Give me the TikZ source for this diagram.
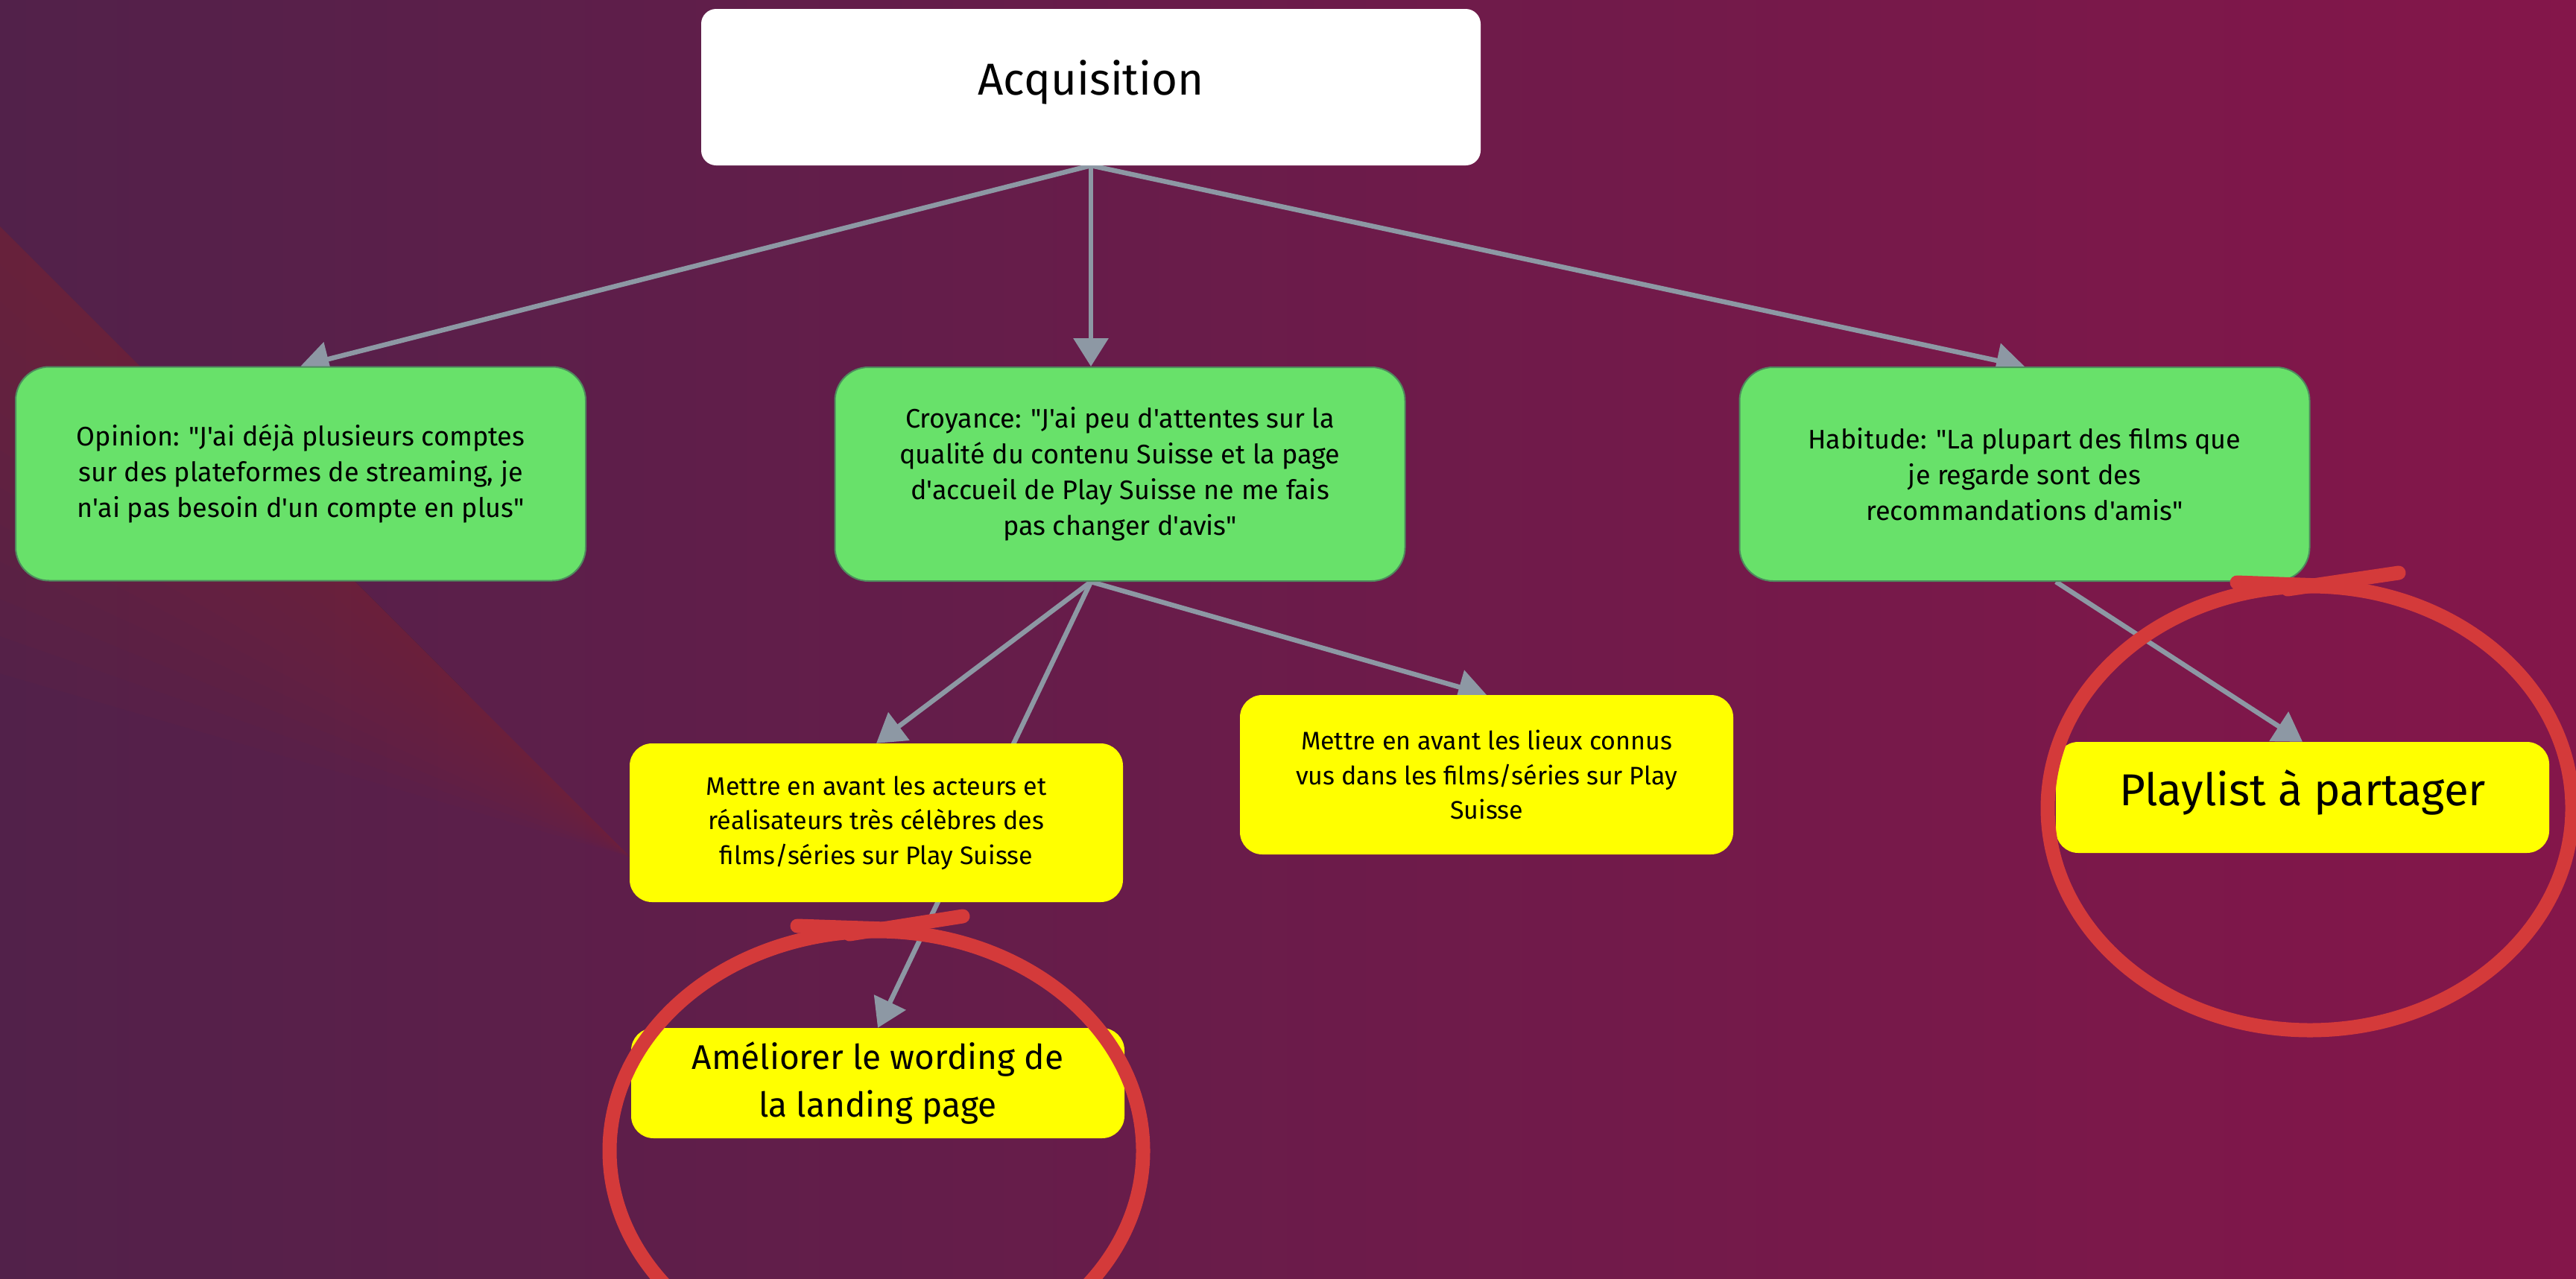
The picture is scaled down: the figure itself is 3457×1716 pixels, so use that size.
\documentclass[tikz,border=0pt]{standalone}
\usepackage{fontspec}
\setmainfont{Fira Sans}[Ligatures=TeXOff]
\usetikzlibrary{arrows.meta,calc}
\pgfdeclarelayer{bglayer}
\pgfdeclarelayer{edgelayer}
\pgfsetlayers{bglayer,edgelayer,main}
\definecolor{bgL}{HTML}{52214A}
\definecolor{bgR}{HTML}{84164A}
\definecolor{redtone}{HTML}{78263A}
\definecolor{boxgreen}{HTML}{68E16A}
\definecolor{greenedge}{HTML}{4F8A5E}
\definecolor{boxyellow}{HTML}{FFFF00}
\definecolor{arrowgray}{HTML}{8D98A4}
\definecolor{markred}{HTML}{D43A3A}
\tikzset{
  basebox/.style={rectangle, inner sep=0pt, align=center, text=black},
  acqbox/.style={basebox, fill=white, rounded corners=20pt, minimum width=1046pt, minimum height=210pt, font=\fontsize{60}{72}\selectfont, text height=33pt, text depth=12pt},
  greenbox/.style={basebox, fill=boxgreen, draw=greenedge, line width=2pt, rounded corners=45pt, minimum width=765pt, minimum height=287pt, font=\fontsize{36}{48}\selectfont},
  yellowbox/.style={basebox, fill=boxyellow, rounded corners=30pt, minimum width=662pt, font=\fontsize{34}{46.5}\selectfont},
  link/.style={draw=arrowgray, line width=6.5pt, -{Triangle[length=38pt,width=46pt]}},
  markring/.style={draw=markred, line width=19pt, line cap=round},
  redband/.style={fill=redtone, fill opacity=0.09, draw=none},
}
\begin{document}
\begin{tikzpicture}[x=1pt,y=-1pt]
\useasboundingbox (0,0) rectangle (3457,1716);
% nodes
\node[acqbox] (acq) at (1464,117) {Acquisition};
\node[greenbox] (opin) at (403.5,636) {Opinion: "J'ai déjà plusieurs comptes\\sur des plateformes de streaming, je\\n'ai pas besoin d'un compte en plus"};
\node[greenbox] (croy) at (1503,636.5) {Croyance: "J'ai peu d'attentes sur la\\qualité du contenu Suisse et la page\\d'accueil de Play Suisse ne me fais\\pas changer d'avis"};
\node[greenbox] (habit) at (2717,636.5) {Habitude: "La plupart des films que\\je regarde sont des\\recommandations d'amis"};
\node[yellowbox, minimum height=213pt] (acteurs) at (1176,1104.5) {Mettre en avant les acteurs et\\réalisateurs très célèbres des\\films/séries sur Play Suisse};
\node[yellowbox, minimum height=214pt] (lieux) at (1995,1040) {Mettre en avant les lieux connus\\vus dans les films/séries sur Play\\Suisse};
\node[yellowbox, minimum height=148pt, font=\fontsize{46}{64}\selectfont] (amel) at (1178,1454) {Améliorer le wording de\\la landing page};
\node[yellowbox, minimum height=149pt, font=\fontsize{60}{72}\selectfont, text height=33pt, text depth=12pt] (play) at (3090,1070.5) {Playlist à partager};
% background
\begin{pgfonlayer}{bglayer}
\shade[left color=bgL, right color=bgR] (0,0) rectangle (3457,1716);
\foreach \k in {1,...,12} {
  \fill[redband] (0,304) -- (845,1150) -- (0,{304+50*\k}) -- cycle;
}
\end{pgfonlayer}
% connectors
\begin{pgfonlayer}{edgelayer}
\coordinate (croyout) at (acq.south |- croy.south);
\coordinate (habout) at ([xshift=42pt]habit.south);
\draw[link] (acq.south) -- (opin.north);
\draw[link] (acq.south) -- (acq.south |- croy.north);
\draw[link] (acq.south) -- (habit.north);
\draw[link] (croyout) -- (acteurs.north);
\draw[link] (croyout) -- (amel.north);
\draw[link] (croyout) -- (lieux.north);
\draw[link] (habout) -- (play.north);
\end{pgfonlayer}
% hand-drawn red marks
\draw[markring] (1176,1545) ellipse [x radius=358, y radius=295];
\draw[markring] (1070,1243) -- (1188,1247);
\draw[markring] (1140,1254) -- (1292,1230);
\draw[markring] (3100,1085) ellipse [x radius=352, y radius=298];
\draw[markring] (3002,782) -- (3115,786);
\draw[markring] (3070,791) -- (3219,769);
\end{tikzpicture}
\end{document}
